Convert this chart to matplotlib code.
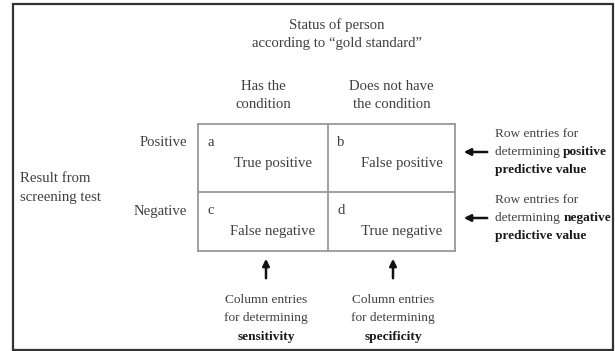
import matplotlib
matplotlib.use("Agg")
import matplotlib.pyplot as plt
from matplotlib.patches import Rectangle

plt.rcParams['font.family'] = ['Liberation Serif', 'DejaVu Serif']

# contenido del diagrama
titulo = ["Status of person", "according to \u201cgold standard\u201d"]
columnas = ["Has the\ncondition", "Does not have\nthe condition"]
filas = ["Positive", "Negative"]
letras = [["a", "b"], ["c", "d"]]
celdas = [["True positive", "False positive"], ["False negative", "True negative"]]
etiqueta_filas = ["Result from", "screening test"]
notas_filas = ["positive", "negative"]
notas_cols = ["sensitivity", "specificity"]

col_txt = "#404040"
col_bold = "#1a1a1a"
fs = 10.6
fs2 = 9.6

fig = plt.figure(figsize=(6.15, 3.51), dpi=100)
ax = fig.add_axes([0, 0, 1, 1])
ax.set_xlim(0, 615)
ax.set_ylim(351, 0)
ax.axis("off")

# marco exterior
ax.add_patch(Rectangle((13, 4), 600, 346, fill=False, ec="#333333", lw=1.6))

ax.text(337, 25, titulo[0], ha="center", va="center", fontsize=fs, color=col_txt)
ax.text(337, 43, titulo[1], ha="center", va="center", fontsize=fs, color=col_txt)

x0, x1, x2 = 198, 328, 455
y0, y1, y2 = 124, 192, 251
centros_x = [(x0 + x1) / 2, (x1 + x2) / 2]
for i, c in enumerate(columnas):
    l1, l2 = c.split("\n")
    ax.text(centros_x[i], 87, l1, ha="center", va="center", fontsize=fs, color=col_txt)
    ax.text(centros_x[i], 104, l2, ha="center", va="center", fontsize=fs, color=col_txt)

# tabla
for y in [y0, y1, y2]:
    ax.plot([x0, x2], [y, y], color="#999999", lw=1.3, solid_capstyle="projecting")
for x in [x0, x1, x2]:
    ax.plot([x, x], [y0, y2], color="#999999", lw=1.3, solid_capstyle="projecting")

tops = [y0, y1]
for r in range(2):
    ax.text(187, tops[r] + 19, filas[r], ha="right", va="center", fontsize=fs, color=col_txt)
    for c in range(2):
        xl = [x0, x1][c]
        ax.text(xl + 9, tops[r] + 19, letras[r][c], ha="left", va="center",
                fontsize=fs, color=col_txt)
        ax.text(centros_x[c] + 10, tops[r] + 39, celdas[r][c], ha="center", va="center",
                fontsize=fs, color=col_txt)

ax.text(20, 179, etiqueta_filas[0], ha="left", va="center", fontsize=fs, color=col_txt)
ax.text(20, 198, etiqueta_filas[1], ha="left", va="center", fontsize=fs, color=col_txt)

fig.canvas.draw()
inv = ax.transData.inverted()

# notas a la derecha
for i, b in enumerate(notas_filas):
    yc = [152, 218][i]
    ax.annotate("", xy=(461, yc), xytext=(490, yc),
                arrowprops=dict(arrowstyle="-|>", color="#111111", lw=1.8,
                                mutation_scale=10))
    ax.text(495, yc - 18, "Row entries for", ha="left", va="center", fontsize=fs2, color=col_txt)
    t = ax.text(495, yc, "determining ", ha="left", va="center", fontsize=fs2, color=col_txt)
    bb = t.get_window_extent(renderer=fig.canvas.get_renderer())
    xb = inv.transform((bb.x1, bb.y0))[0]
    ax.text(xb, yc, b, ha="left", va="center", fontsize=fs2, color=col_bold, weight="bold")
    ax.text(495, yc + 18, "predictive value", ha="left", va="center", fontsize=fs2,
            color=col_bold, weight="bold")

# notas abajo
for i, b in enumerate(notas_cols):
    xc = [266, 393][i]
    ax.annotate("", xy=(xc, 256), xytext=(xc, 281),
                arrowprops=dict(arrowstyle="-|>", color="#111111", lw=1.8,
                                mutation_scale=10))
    ax.text(xc, 300, "Column entries", ha="center", va="center", fontsize=fs2, color=col_txt)
    ax.text(xc, 318, "for determining", ha="center", va="center", fontsize=fs2, color=col_txt)
    ax.text(xc, 337, b, ha="center", va="center", fontsize=fs2, color=col_bold, weight="bold")

fig.savefig("out.png", dpi=100)
